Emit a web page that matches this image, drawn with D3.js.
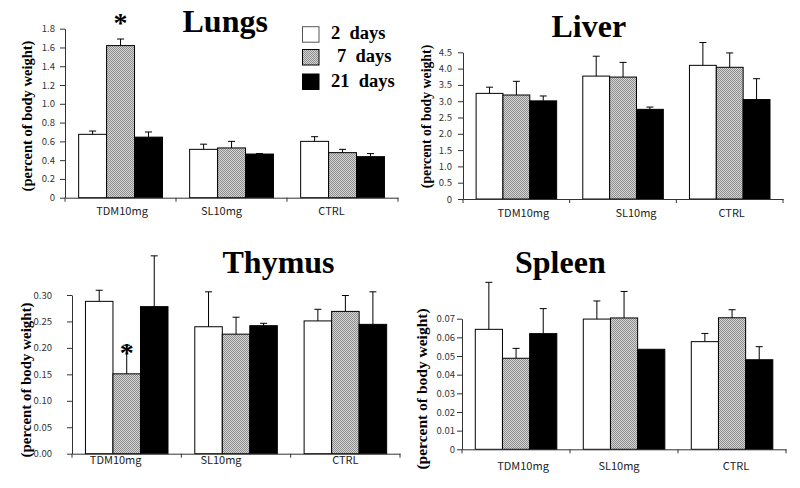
<!DOCTYPE html>
<html><head><meta charset="utf-8">
<script src="https://cdn.jsdelivr.net/npm/d3@7"></script>
<style>body{margin:0;background:#fff}svg{display:block}</style>
</head><body>
<svg id="c" width="800" height="488"></svg>
<script>
// ---- data ----
const categories = ["TDM10mg", "SL10mg", "CTRL"];
const seriesNames = ["2 days", "7 days", "21 days"];

const lungsMean = [[0.675, 0.515, 0.60], [1.62, 0.53, 0.48], [0.645, 0.465, 0.437]];
const lungsErr  = [[0.035, 0.055, 0.05], [0.07, 0.07, 0.035], [0.055, 0.005, 0.033]];
const lungsTicks = [0, 0.2, 0.4, 0.6, 0.8, 1.0, 1.2, 1.4, 1.6, 1.8];

const liverMean = [[3.24, 3.77, 4.10], [3.19, 3.74, 4.04], [3.01, 2.75, 3.05]];
const liverErr  = [[0.19, 0.61, 0.70], [0.42, 0.45, 0.44], [0.15, 0.07, 0.64]];
const liverTicks = [0, 0.5, 1.0, 1.5, 2.0, 2.5, 3.0, 3.5, 4.0, 4.5];

const thymusMean = [[0.288, 0.240, 0.251], [0.151, 0.226, 0.269], [0.278, 0.242, 0.2445]];
const thymusErr  = [[0.021, 0.066, 0.022], [0.054, 0.032, 0.030], [0.096, 0.0045, 0.0615]];
const thymusTicks = [0, 0.05, 0.10, 0.15, 0.20, 0.25, 0.30];

const spleenMean = [[0.0643, 0.0698, 0.0577], [0.0488, 0.0704, 0.0705], [0.062, 0.0536, 0.048]];
const spleenErr  = [[0.0252, 0.0097, 0.0044], [0.0053, 0.0142, 0.0043], [0.0134, 0, 0.007]];
const spleenTicks = [0, 0.01, 0.02, 0.03, 0.04, 0.05, 0.06, 0.07];

const yLabel = "(percent of body weight)";

// ---- layout ----
const svg = d3.select("#c");
const defs = svg.append("defs");
const pat = defs.append("pattern").attr("id", "hatch").attr("patternUnits", "userSpaceOnUse")
  .attr("width", 2).attr("height", 2);
pat.append("rect").attr("width", 2).attr("height", 2).attr("fill", "#d6d6d6");
pat.append("rect").attr("x", 0).attr("y", 0).attr("width", 1).attr("height", 1).attr("fill", "#8c8c8c");
pat.append("rect").attr("x", 1).attr("y", 1).attr("width", 1).attr("height", 1).attr("fill", "#8c8c8c");
const fills = ["#ffffff", "url(#hatch)", "#000000"];

const panels = [
  {title: "Lungs", mean: lungsMean, err: lungsErr, ticks: lungsTicks, fmt: d => d === 0 ? "0" : d.toFixed(1),
   x: [65, 398], y: [197.7, 28.7], tx: 182.5, ty: 32.3, lab: [31.5, 116, 14.5], pad: 5, xpad: 9.5,
   shift: [1.5, -10, -11], star: [0, 1]},
  {title: "Liver", mean: liverMean, err: liverErr, ticks: liverTicks, fmt: d => d === 0 ? "0" : d.toFixed(1),
   x: [463, 783], y: [199, 52.3], tx: 551.5, ty: 37.3, lab: [431, 116.5, 13.8], pad: 6, xpad: 10,
   shift: [7, 13, 2]},
  {title: "Thymus", mean: thymusMean, err: thymusErr, ticks: thymusTicks, fmt: d => d.toFixed(2),
   x: [72, 400], y: [453.7, 295], tx: 222.5, ty: 273.3, lab: [30.5, 380, 14.9], pad: 15, xpad: 2.5,
   shift: [-11, -15, 0], star: [0, 1]},
  {title: "Spleen", mean: spleenMean, err: spleenErr, ticks: spleenTicks, fmt: d => d === 0 ? "0" : d.toFixed(2),
   x: [462, 786], y: [449.3, 318.7], tx: 515, ty: 273.3, lab: [426.5, 389, 15.5], pad: 2, xpad: 13,
   shift: [7, -5, 4]}
];

const serif = "'Liberation Serif','Times New Roman',serif";
const sans = "'Noto Sans CJK JP','Noto Sans',sans-serif";

panels.forEach(p => {
  const g = svg.append("g");
  const y = d3.scaleLinear().domain([0, p.ticks[p.ticks.length - 1]]).range(p.y);
  const xb = d3.scaleBand().domain(categories).range(p.x).padding(0);
  const xs = d3.scaleBand().domain(seriesNames)
    .range([xb.bandwidth() * 0.123, xb.bandwidth() * 0.878]).padding(0);

  // y axis
  const ya = g.append("g").attr("transform", `translate(${p.x[0]},0)`)
    .call(d3.axisLeft(y).tickValues(p.ticks).tickFormat(p.fmt).tickSize(5).tickSizeOuter(0).tickPadding(p.pad));
  ya.selectAll("path,line").attr("stroke", "#333");
  ya.selectAll("text").attr("font-family", sans).attr("font-size", 9.5).attr("fill", "#333");

  // bars
  categories.forEach((c, ci) => {
    seriesNames.forEach((s, si) => {
      const v = p.mean[si][ci], e = p.err[si][ci];
      const bx = xb(c) + xs(s), bw = xs.bandwidth();
      g.append("rect").attr("x", bx).attr("y", y(v)).attr("width", bw).attr("height", y(0) - y(v))
        .attr("fill", fills[si]).attr("stroke", "#000").attr("stroke-width", 1);
      if (e > 0) {
        const cx = bx + bw / 2;
        g.append("line").attr("x1", cx).attr("x2", cx).attr("y1", y(v)).attr("y2", y(v + e))
          .attr("stroke", "#000").attr("stroke-width", 1);
        g.append("line").attr("x1", cx - 3.5).attr("x2", cx + 3.5).attr("y1", y(v + e)).attr("y2", y(v + e))
          .attr("stroke", "#000").attr("stroke-width", 1);
      }
    });
  });

  // x axis
  const xa = g.append("g").attr("transform", `translate(0,${p.y[0]})`)
    .call(d3.axisBottom(xb).tickSize(0).tickPadding(p.xpad));
  xa.select(".domain").attr("stroke", "#333");
  xa.selectAll("text").attr("font-family", sans).attr("font-size", 11).attr("fill", "#222")
    .attr("dx", (d, i) => p.shift[i]);
  const edges = categories.map(c => xb(c)).concat([p.x[1]]);
  g.selectAll(null).data(edges).enter().append("line")
    .attr("x1", d => d).attr("x2", d => d).attr("y1", p.y[0]).attr("y2", p.y[0] + 4)
    .attr("stroke", "#333");

  // title
  g.append("text").attr("x", p.tx).attr("y", p.ty).text(p.title)
    .attr("font-family", serif).attr("font-weight", "bold").attr("font-size", 32).attr("fill", "#000");

  // y label
  g.append("text").attr("transform", `translate(${p.lab[0]},${p.lab[1]}) rotate(-90)`)
    .attr("text-anchor", "middle").text(yLabel)
    .attr("font-family", serif).attr("font-weight", "bold").attr("font-size", p.lab[2]).attr("fill", "#000");

  // significance star
  if (p.star) {
    const [ci, si] = p.star;
    const cx = xb(categories[ci]) + xs(seriesNames[si]) + xs.bandwidth() / 2;
    const top = y(p.mean[si][ci] + p.err[si][ci]);
    g.append("text").attr("x", cx).attr("y", top - (p.title === "Lungs" ? 7 : -17))
      .attr("text-anchor", "middle").text("*")
      .attr("font-family", serif).attr("font-weight", "bold").attr("font-size", 28);
  }
});

// legend
const lg = svg.append("g");
const legY = [26.7, 49.5, 74];
const legTx = [331, 337, 331];
seriesNames.forEach((s, i) => {
  lg.append("rect").attr("x", 302.5).attr("y", legY[i]).attr("width", 16.5).attr("height", 15.5)
    .attr("fill", fills[i]).attr("stroke", i === 0 ? "#555" : "#000").attr("stroke-width", 1);
  lg.append("text").attr("x", legTx[i]).attr("y", legY[i] + 12.5)
    .style("white-space", "pre").text(s.replace(" ", "  "))
    .attr("font-family", serif).attr("font-weight", "bold").attr("font-size", 18.5);
});
</script>
</body></html>
